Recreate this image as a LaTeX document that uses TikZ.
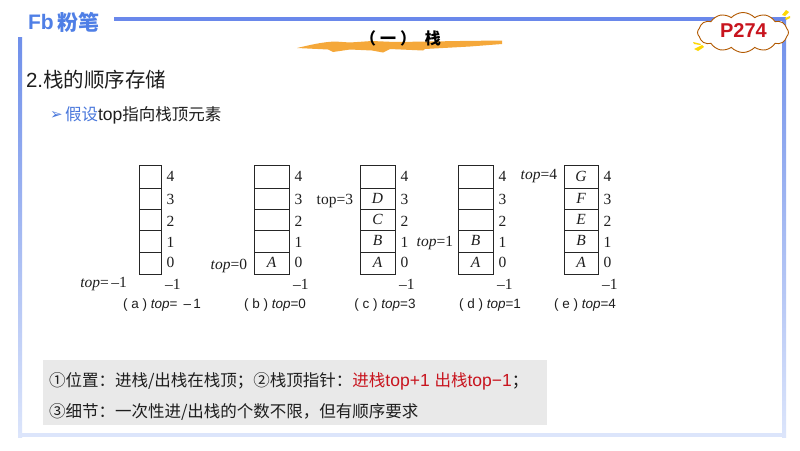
\documentclass[tikz,border=0pt]{standalone}
\usepackage{fontspec}
\setmainfont{Liberation Sans}
\newfontfamily\cjk{Noto Sans CJK SC}
\newfontfamily\srf{Liberation Serif}
\usetikzlibrary{shapes.symbols}
\definecolor{framec}{HTML}{6F8FEA}
\definecolor{framel}{HTML}{DCE5FB}
\definecolor{logoc}{HTML}{4F7FE6}
\definecolor{brushc}{HTML}{F5A83A}
\definecolor{redc}{HTML}{C8141E}
\definecolor{bluet}{HTML}{4A78DC}
\definecolor{graybox}{HTML}{E9E9E9}
\definecolor{txt}{HTML}{1E1E1E}
\tikzset{
  x=1pt,y=-1pt,
  every node/.style={inner sep=0pt,outer sep=0pt,text=txt},
  cell/.style={draw=black!85,line width=0.75pt,fill=none,inner sep=0pt},
  idx/.style={font=\srf\fontsize{15.5}{15.5}\selectfont,anchor=west},
  val/.style={font=\srf\itshape\fontsize{15.5}{15.5}\selectfont},
  ptr/.style={font=\srf\fontsize{15.5}{15.5}\selectfont,anchor=east},
  capt/.style={font=\fontsize{13.5}{14}\selectfont,anchor=center},
  note/.style={font=\fontsize{17.5}{18}\selectfont,anchor=west},
}
\newcommand{\lat}[1]{{\fontsize{17.5}{18}\selectfont #1}}
\newcommand{\cn}[1]{{\cjk\fontsize{16.5}{18}\selectfont #1}}
\newcommand{\stk}[7]{% x0,x1,A,B,C,D,E
  \foreach \yt/\yb/\ly/\lab/\cnt in {252/274/262/0/#3,230/252/242/1/#4,209/230/221/2/#5,188/209/199/3/#6,165/188/176/4/#7}{
    \draw[cell] (#1,\yt) rectangle (#2,\yb);
    \node[val] at ({(#1+#2)/2},{(\yt+\yb)/2-0.5}) {\cnt};
    \node[idx] at (#2+5.5,\ly) {\lab};
  }
  \node[idx] at (#2+4,284) {\textendash 1};
}
\begin{document}
\begin{tikzpicture}
\useasboundingbox (0,0) rectangle (800,450);
\fill[white] (0,0) rectangle (800,450);
% frame
\shade[top color=framec,bottom color=framel] (18,37) rectangle (22,437);
\shade[top color=framec,bottom color=framel] (782,19) rectangle (786,437);
\fill[framel] (18,433) rectangle (786,437);
\fill[framec!95!blue] (114,17.2) rectangle (786,20.5);
% logo
\node[font=\bfseries\fontsize{21}{21}\selectfont,text=logoc,anchor=west] (logo) at (28,22) {Fb};
\node[font=\cjk\bfseries\fontsize{21}{21}\selectfont,text=logoc,anchor=west] (logotxt) at (57,22) {粉笔};
% brush
\fill[brushc] (297,48) .. controls (310,45) and (322,42) .. (335,41.5) -- (350,42.5) -- (372,41) -- (395,42) -- (430,41.5) -- (460,41) -- (502,40.5) -- (502,44) -- (470,46.5) -- (425,49) -- (423,50.5) -- (390,49) -- (383,52.5) -- (372,50.5) -- (350,49.5) -- (333,52) -- (328,49.5) -- cycle;
\node[font=\cjk\bfseries\fontsize{16}{16}\selectfont,text=black,anchor=west] (title) at (360,38) {（\hspace{4pt}一\hspace{4pt}）\hspace{9pt}栈};
% cloud
\fill[yellow!75!orange] (694,49) -- (702,45) -- (704,47) -- (698,51) -- cycle;
\fill[yellow!75!orange] (693,42) -- (701,44) -- (700,45) -- (694,44) -- cycle;
\fill[yellow!75!orange] (782,15) -- (786,10) -- (789,12) -- (785,16) -- cycle;
\fill[yellow!75!orange] (785,18) -- (790,16) -- (790,18) -- (786,20) -- cycle;
\node[cloud,cloud puffs=12,cloud puff arc=95,aspect=2.4,draw=orange!70!black,line width=0.9pt,fill=white,minimum width=91pt,minimum height=40pt] (cl) at (743,32.5) {};
\node[font=\bfseries\fontsize{20}{20}\selectfont,text=redc] (pg) at (743.5,31) {P274};
% headings
\node[font=\fontsize{20.5}{21}\selectfont,anchor=west] (h2) at (26,80) {2.{\cjk 栈的顺序存储}};
\node[font=\fontsize{15}{16}\selectfont,text=bluet,anchor=west] (arrow) at (50,115) {\fontspec{DejaVu Sans}➢};
\node[font=\fontsize{17.5}{18}\selectfont,anchor=west] (h3) at (65,115) {{\cjk\fontsize{16.5}{18}\selectfont\color{bluet}假设}top{\cjk\fontsize{16.5}{18}\selectfont 指向栈顶元素}};
% stacks
\stk{139}{161}{}{}{}{}{}
\stk{254}{289}{A}{}{}{}{}
\stk{360}{395}{A}{B}{C}{D}{}
\stk{458}{493}{A}{B}{}{}{}
\stk{564}{598}{A}{B}{E}{F}{G}
% pointers
\node[ptr] (pa) at (127,284) {\textit{top}=\,\textendash 1};
\node[ptr] (pb) at (247,266) {\textit{top}=0};
\node[ptr] (pc) at (353,201) {top=3};
\node[ptr] (pd) at (453,243) {\textit{top}=1};
\node[ptr] (pe) at (557,176) {\textit{top}=4};
% captions
\node[capt] (ca) at (162,305) {( a ) \textit{top}= \,\textendash\,1};
\node[capt] (cb) at (275,305) {( b ) \textit{top}=0};
\node[capt] (cc) at (385,305) {( c ) \textit{top}=3};
\node[capt] (cd) at (490,305) {( d ) \textit{top}=1};
\node[capt] (ce) at (585,305) {( e ) \textit{top}=4};
% note box
\fill[graybox] (43,360) rectangle (547,425);
\node[note] (n1) at (49,381) {\cn{①位置：进栈/出栈在栈顶；②栈顶指针：}\textcolor{redc}{\cn{进栈}\lat{top+1} \cn{出栈}\lat{top−1}}\cn{；}};
\node[note] (n2) at (49,412) {\cn{③细节：一次性进/出栈的个数不限，但有顺序要求}};
\end{tikzpicture}
\end{document}
